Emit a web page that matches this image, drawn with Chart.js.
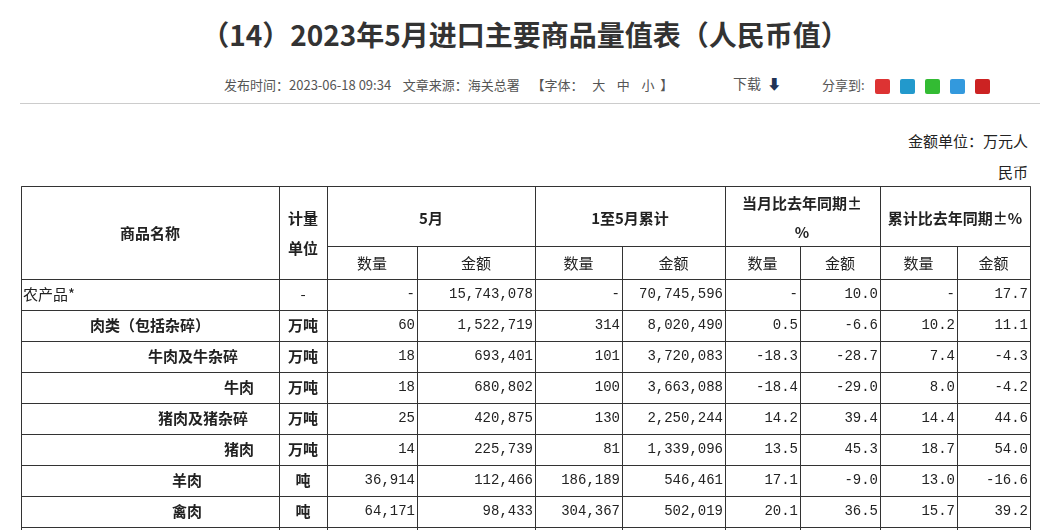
<!DOCTYPE html>
<html><head><meta charset="utf-8">
<script src="https://cdn.jsdelivr.net/npm/chart.js@4"></script>
<style>
body{margin:0;background:#fff;font-family:"Noto Sans CJK SC",sans-serif;width:1050px;height:530px;overflow:hidden;position:relative}
#t{position:absolute;top:14px;left:0;width:1050px;text-align:center;font-size:28px;font-weight:bold;color:#333}
.m{position:absolute;top:75px;font-size:13px;color:#555;white-space:pre}
#hr{position:absolute;top:103px;left:20px;width:1020px;height:1px;background:#ccc}
#u{position:absolute;top:125px;right:22px;font-size:15px;color:#222;text-align:right;line-height:31px}
.ic{display:inline-block;width:15px;height:15px;vertical-align:middle;margin-left:10px;border-radius:2px}
canvas{position:absolute;left:21px;top:186px}
</style></head><body>
<div id="t">（14）2023年5月进口主要商品量值表（人民币值）</div>
<div class="m" style="left:224px">发布时间：2023-06-18 09:34    文章来源：海关总署    【字体：   大    中    小  】</div>
<div class="m" style="left:733px;top:73px;font-size:14px">下载  <b style="color:#235">⬇</b></div>
<div class="m" style="left:822px">分享到:<span class="ic" style="background:#d33"></span><span class="ic" style="background:#29c"></span><span class="ic" style="background:#3b3"></span><span class="ic" style="background:#39d"></span><span class="ic" style="background:#c22"></span></div>
<div id="hr"></div>
<div id="u">金额单位：万元人<br>民币</div>
<canvas id="c" width="1010" height="344"></canvas>
<script>
const names=["农产品*","肉类（包括杂碎）","牛肉及牛杂碎","牛肉","猪肉及猪杂碎","猪肉","羊肉","禽肉"];
const units=["-","万吨","万吨","万吨","万吨","万吨","吨","吨"];
const mayQty=["-","60","18","18","25","14","36,914","64,171"];
const mayVal=["15,743,078","1,522,719","693,401","680,802","420,875","225,739","112,466","98,433"];
const cumQty=["-","314","101","100","130","81","186,189","304,367"];
const cumVal=["70,745,596","8,020,490","3,720,083","3,663,088","2,250,244","1,339,096","546,461","502,019"];
const yoyQty=["-","0.5","-18.3","-18.4","14.2","13.5","17.1","20.1"];
const yoyVal=["10.0","-6.6","-28.7","-29.0","39.4","45.3","-9.0","36.5"];
const cumYoyQty=["-","10.2","7.4","8.0","14.4","18.7","13.0","15.7"];
const cumYoyVal=["17.7","11.1","-4.3","-4.2","44.6","54.0","-16.6","39.2"];
const cols=[21,279,327,417,535,622,725,800,880,957,1030];
const rowsY=[279,310,341,372,403,434,465,496,527];
const nameX=[23,90,148,224,158,224,172,172];
const tablePlugin={id:'tbl',afterDraw(ch){
 const c=ch.ctx,X=v=>ch.scales.x.getPixelForValue(v),Y=v=>ch.scales.y.getPixelForValue(v);
 c.save();c.strokeStyle='#333';c.lineWidth=1;
 const ln=(x1,y1,x2,y2)=>{c.beginPath();c.moveTo(Math.round(X(x1))+.5,Math.round(Y(y1))+.5);c.lineTo(Math.round(X(x2))+.5,Math.round(Y(y2))+.5);c.stroke();};
 ln(21,186,1030,186);ln(327,246,1030,246);
 rowsY.forEach(y=>ln(21,y,1030,y));
 cols.forEach((x,i)=>{ln(x,(i%2==1&&i>2)?246:186,x,530);});
 [2,4,6,8].forEach(i=>ln(cols[i],186,cols[i],530));
 ln(21,186,21,530);ln(1030,186,1030,530);
 c.fillStyle='#222';c.textBaseline='middle';
 const t=(s,x,y,al,f)=>{c.font=f;c.textAlign=al;c.fillText(s,X(x),Y(y));};
 const hb='bold 15px "Noto Sans CJK SC"';
 t("商品名称",150,233,'center',hb);t("计量",303,218,'center',hb);t("单位",303,248,'center',hb);
 t("5月",431,218,'center',hb);t("1至5月累计",630,218,'center',hb);
 t("当月比去年同期±",802,203,'center',hb);t("%",802,232,'center',hb);
 t("累计比去年同期±%",955,218,'center',hb);
 for(let i=2;i<10;i++) t(i%2==0?"数量":"金额",(cols[i]+cols[i+1])/2,263,'center','15px "Noto Sans CJK SC"');
 const cells=[mayQty,mayVal,cumQty,cumVal,yoyQty,yoyVal,cumYoyQty,cumYoyVal];
 const nf='14px "Liberation Mono"';
 names.forEach((n,r)=>{const y=(rowsY[r]+rowsY[r+1])/2;
  t(n,nameX[r],y,'left',r==0?'15px "Noto Sans CJK SC"':hb);
  t(units[r],303,y,'center',r==0?'15px "Noto Sans CJK SC"':hb);
  cells.forEach((a,k)=>t(a[r],cols[k+3]-2,y,'right',nf));});
 c.restore();}};
new Chart(document.getElementById('c'),{type:'scatter',data:{datasets:[{data:[]}]},
 options:{responsive:false,animation:false,devicePixelRatio:1,layout:{padding:0},
 plugins:{legend:{display:false},tooltip:{enabled:false}},
 scales:{x:{type:'linear',min:21,max:1031,display:false},y:{type:'linear',min:186,max:530,reverse:true,display:false}}},
 plugins:[tablePlugin]});
</script></body></html>
